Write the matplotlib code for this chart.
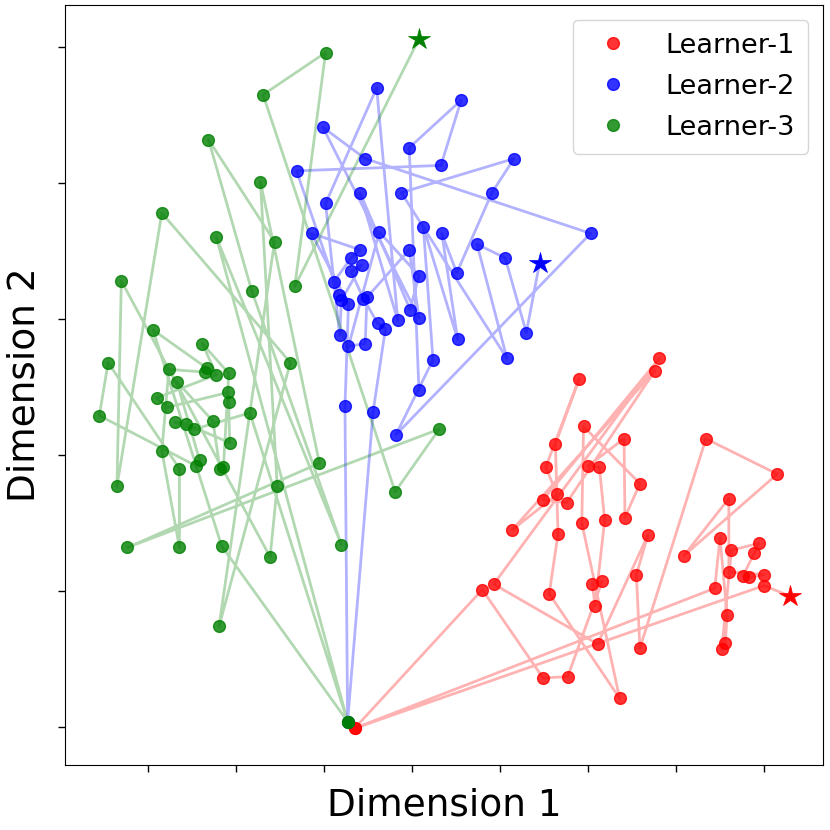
import matplotlib
matplotlib.use("Agg")
import matplotlib.pyplot as plt

# Learner-1 trajectory (red)
l1_x = [3.5, 44.4, 45.0, 45.8, 45.6, 45.2, 46.3, 49.4, 48.9, 47.6, 48.3, 50.0, 46.0, 46.0, 40.9,
        51.5, 43.4, 35.9, 35.5, 36.8, 31.1, 19.3, 38.1, 24.9, 27.6, 37.6, 21.4, 26.5, 25.2, 29.0,
        26.3, 26.6, 25.6, 33.6, 29.3, 29.5, 35.9, 34.2, 34.1, 30.0, 31.3, 31.9, 30.8, 30.5, 31.6,
        27.7, 24.9, 18.0, 3.5, 50.0, 53.0]
l1_y = [-30.1, -19.8, -16.1, -21.8, -23.8, -24.3, -17.0, -16.5, -17.2, -18.9, -19.0, -18.8, -18.6, -13.2, -17.4,
        -11.4, -8.8, -24.2, -18.8, -15.9, -23.9, -19.5, -2.9, -13.3, -13.5, -3.8, -15.5, -12.9, -10.9, -4.4,
        -9.2, -15.8, -20.2, -27.9, -15.0, -7.9, -12.1, -14.6, -8.8, -10.8, -10.9, -14.8, -21.1, -19.5, -19.3,
        -26.3, -26.4, -19.9, -30.1, -19.6, -20.4]

# Learner-2 trajectory (blue)
l2_x = [10.8, 9.7, 15.6, 13.3, -3.1, 1.7, 1.1, 3.1, 4.1, -1.4, 2.8, 2.4, 2.7, 5.6, 7.0,
        6.1, 4.5, 3.1, 4.3, 2.0, 1.8, 0.2, 6.0, 8.4, 4.1, 9.8, 10.8, 6.3, 2.8, 4.7,
        4.9, 9.7, 10.8, -0.1, 4.7, 30.3, 8.2, 12.4, 11.3, 15.2, 13.4, 15.1, 19.1, 21.6, 8.8,
        20.8, 17.4, 20.6, 23.0, 24.5]
l2_y = [-5.2, 12.6, 16.1, 11.3, 10.9, 1.8, 2.7, 4.5, 5.1, 6.3, 1.1, -6.4, -29.6, -6.8, -0.7,
        -0.3, 1.5, 3.5, 4.0, 1.4, -1.2, 8.5, 17.0, -0.1, 9.3, 0.7, 3.2, 6.4, -2.0, -1.8,
        1.6, 5.1, 0.1, 14.1, 11.8, 6.3, -8.5, -3.0, 6.8, -1.5, 6.3, 3.4, 9.3, 11.8, 9.3,
        -2.9, 5.5, 4.5, -1.0, 4.1]

# Learner-3 trajectory (green)
l3_x = [2.7, -11.6, -19.4, -13.3, -13.5, -17.6, -18.4, -16.4, -16.4, -24.5, -25.5, -14.5, -14.1, -16.7, -12.6,
        -11.8, -11.4, -10.8, -13.8, -12.2, -19.0, -17.8, -10.9, -10.8, -10.7, -15.7, -16.9, -14.7, -8.4, 2.7,
        -12.2, 2.0, -8.2, -13.1, -5.6, -11.9, -3.8, -18.4, -23.5, -23.0, -6.1, -5.3, -7.2, -0.5, -22.3,
        13.1, 8.1, -6.9, 0.2, -3.3, 10.8]
l3_y = [-29.6, -16.7, -0.8, -3.6, -3.9, -3.7, -9.7, -16.8, -11.0, -3.2, -7.1, -10.8, -10.4, -4.6, -7.5,
        -11.0, -10.9, -4.0, -1.8, -4.1, -5.8, -6.5, -5.4, -6.1, -9.1, -7.7, -7.6, -8.1, -6.9, -29.6,
        6.0, -16.6, 2.1, 13.2, 5.7, -22.6, -3.2, 7.8, -12.3, 2.8, -17.5, -12.3, 10.1, -10.6, -16.8,
        -8.1, -12.7, 16.5, 19.6, 2.4, 20.6]

names = ["Learner-1", "Learner-2", "Learner-3"]
colors = ["red", "blue", "green"]
series = [(l1_x, l1_y), (l2_x, l2_y), (l3_x, l3_y)]

x_ticks = [-20, -10, 0, 10, 20, 30, 40, 50]
y_ticks = [-30, -20, -10, 0, 10, 20]

fig = plt.figure(figsize=(8.3, 8.3), dpi=100)
ax = fig.add_axes([0.0783, 0.0783, 0.9133, 0.9157])

for (xs, ys), c, name in zip(series, colors, names):
    ax.plot(xs, ys, '-', color=c, alpha=0.3, linewidth=2.0, zorder=1)
    ax.plot(xs[:-1], ys[:-1], 'o', color=c, alpha=0.8, markersize=8.5,
            markeredgewidth=1.0, linestyle='none', label=name, zorder=2)
    ax.plot(xs[-1:], ys[-1:], '*', color=c, markersize=16, markeredgewidth=0.5,
            linestyle='none', zorder=3)

ax.set_xlim(-29.4, 56.7)
ax.set_ylim(-32.8, 23.1)
ax.set_xticks(x_ticks)
ax.set_yticks(y_ticks)
ax.set_xticklabels([])
ax.set_yticklabels([])
ax.tick_params(length=5, width=1)
ax.set_xlabel("Dimension 1", fontsize=27, labelpad=8)
ax.set_ylabel("Dimension 2", fontsize=27, labelpad=8)
ax.legend(loc="upper right", fontsize=19.5, handlelength=2.0, handletextpad=0.96,
          borderpad=0.48, labelspacing=0.55, markerscale=1.0, borderaxespad=0.55)

fig.savefig("out.png", dpi=100)
